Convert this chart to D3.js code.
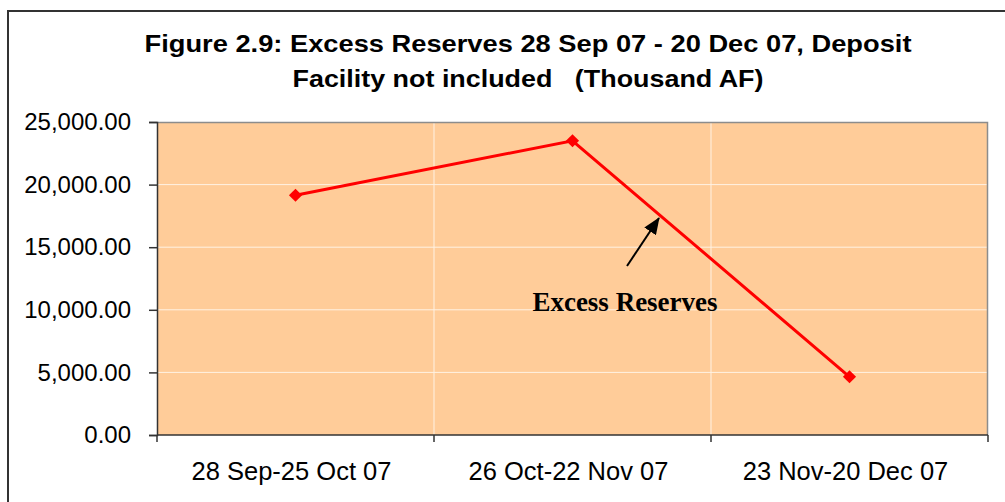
<!DOCTYPE html>
<html>
<head>
<meta charset="utf-8">
<script src="https://cdn.jsdelivr.net/npm/d3@7"></script>
<style>
  body { margin: 0; background: #fff; }
  svg { display: block; }
  text { white-space: pre; }
</style>
</head>
<body>
<div id="chart"></div>
<script>
// chart data
const periods = ["28 Sep-25 Oct 07", "26 Oct-22 Nov 07", "23 Nov-20 Dec 07"];
const excessReserves = [19150, 23500, 4650];
const yTicks = [0, 5000, 10000, 15000, 20000, 25000];
const titleLines = ["Figure 2.9: Excess Reserves 28 Sep 07 - 20 Dec 07, Deposit",
                    "Facility not included   (Thousand AF)"];
const seriesLabel = "Excess Reserves";

const W = 1005, H = 502;
const margin = { top: 122, right: 17, bottom: 67, left: 157 },
    width = W - margin.left - margin.right,
    height = H - margin.top - margin.bottom;

const svg = d3.select("#chart").append("svg")
    .attr("width", W)
    .attr("height", H);

// outer frame (runs off the right/bottom edge as in the source)
svg.append("rect")
    .attr("x", 8).attr("y", 11)
    .attr("width", W).attr("height", H)
    .attr("fill", "none")
    .attr("stroke", "#333")
    .attr("stroke-width", 2);

// title (stretched a bit wide, like the original)
svg.append("g").selectAll("text")
    .data(titleLines)
    .enter().append("text")
    .attr("x", 528)
    .attr("y", (d, i) => 52 + i * 35)
    .attr("text-anchor", "middle")
    .attr("textLength", (d, i) => i === 0 ? 767 : 471)
    .attr("lengthAdjust", "spacingAndGlyphs")
    .style("font-family", "Arial, 'Liberation Sans', sans-serif")
    .style("font-weight", "bold")
    .style("font-size", "24px")
    .text(d => d);

const g = svg.append("g")
    .attr("transform", `translate(${margin.left},${margin.top})`);

const x = d3.scaleBand().domain(periods).range([0, width]);
const y = d3.scaleLinear().domain([0, 25000]).range([height, 0]);

// plot background
g.append("rect")
    .attr("width", width).attr("height", height)
    .attr("fill", "#FFCC99");

// gridlines
g.selectAll(".hgrid")
    .data(yTicks.slice(1, -1))
    .enter().append("line")
    .attr("x1", 0).attr("x2", width)
    .attr("y1", d => y(d)).attr("y2", d => y(d))
    .attr("stroke", "#FFF2E4").attr("stroke-width", 1);

g.selectAll(".vgrid")
    .data(periods.slice(1))
    .enter().append("line")
    .attr("x1", d => x(d)).attr("x2", d => x(d))
    .attr("y1", 0).attr("y2", height)
    .attr("stroke", "#FFF2E4").attr("stroke-width", 1);

// top / right plot edges
g.append("path")
    .attr("d", `M0,0.5H${width - 0.5}V${height}`)
    .attr("fill", "none")
    .attr("stroke", "#8c8c8c")
    .attr("stroke-width", 1.5);

// y axis
const yAxis = g.append("g")
    .call(d3.axisLeft(y).tickValues(yTicks).tickSize(8).tickPadding(18)
        .tickFormat(d3.format(",.2f")));
yAxis.select(".domain").attr("stroke", "#333").attr("stroke-width", 1.5);
yAxis.selectAll(".tick line").attr("stroke", "#333").attr("stroke-width", 1.5);
yAxis.selectAll("text")
    .style("font-family", "Arial, 'Liberation Sans', sans-serif")
    .style("font-size", "24px")
    .attr("fill", "#000");

// x axis: ticks on band boundaries, labels centred in bands
const xAxis = g.append("g").attr("transform", `translate(0,${height})`);
xAxis.append("line")
    .attr("x1", 0).attr("x2", width)
    .attr("stroke", "#333").attr("stroke-width", 1.5);
xAxis.selectAll(".xtick")
    .data(periods.map(p => x(p)).concat([width]))
    .enter().append("line")
    .attr("x1", d => d).attr("x2", d => d)
    .attr("y1", 0).attr("y2", 7)
    .attr("stroke", "#333").attr("stroke-width", 1.5);
xAxis.selectAll(".xlabel")
    .data(periods)
    .enter().append("text")
    .attr("x", d => x(d) + x.bandwidth() / 2 - 4)
    .attr("y", 45)
    .attr("text-anchor", "middle")
    .style("font-family", "Arial, 'Liberation Sans', sans-serif")
    .style("font-size", "25.5px")
    .text(d => d);

// series line
const pts = periods.map((p, i) => ({ p: p, v: excessReserves[i] }));
const line = d3.line()
    .x(d => x(d.p) + x.bandwidth() / 2)
    .y(d => y(d.v));

g.append("path")
    .datum(pts)
    .attr("d", line)
    .attr("fill", "none")
    .attr("stroke", "#FF0000")
    .attr("stroke-width", 3);

g.selectAll(".marker")
    .data(pts)
    .enter().append("path")
    .attr("d", d3.symbol().type(d3.symbolDiamond2).size(110))
    .attr("transform", d => `translate(${x(d.p) + x.bandwidth() / 2},${y(d.v)})`)
    .attr("fill", "#FF0000");

// annotation arrow + label
svg.append("defs").append("marker")
    .attr("id", "arrowhead")
    .attr("viewBox", "0 0 17 14")
    .attr("refX", 16).attr("refY", 7)
    .attr("markerWidth", 17).attr("markerHeight", 14)
    .attr("markerUnits", "userSpaceOnUse")
    .attr("orient", "auto")
    .append("path")
    .attr("d", "M0,0L17,7L0,14z")
    .attr("fill", "#000");

svg.append("line")
    .attr("x1", 627).attr("y1", 266)
    .attr("x2", 659).attr("y2", 218)
    .attr("stroke", "#000")
    .attr("stroke-width", 2)
    .attr("marker-end", "url(#arrowhead)");

svg.append("text")
    .attr("x", 625).attr("y", 311)
    .attr("text-anchor", "middle")
    .style("font-family", "'Liberation Serif', 'Times New Roman', serif")
    .style("font-weight", "bold")
    .style("font-size", "27px")
    .text(seriesLabel);
</script>
</body>
</html>
